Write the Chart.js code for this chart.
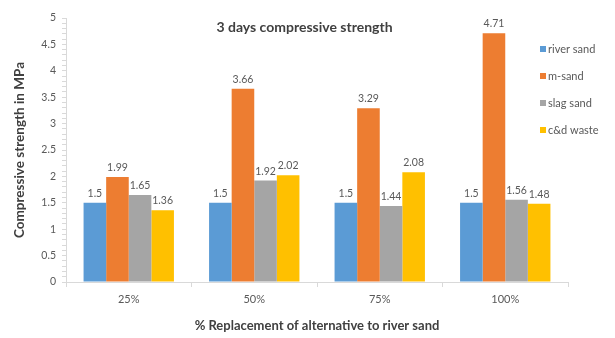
<!DOCTYPE html>
<html>
<head>
<meta charset="utf-8">
<script src="https://cdn.jsdelivr.net/npm/chart.js@4/dist/chart.umd.min.js"></script>
<style>
  html, body { margin: 0; padding: 0; background: #fff; }
  #wrap { width: 615px; height: 338px; }
</style>
</head>
<body>
<div id="wrap"><canvas id="c"></canvas></div>
<script>
// данные
const categories = ["25%", "50%", "75%", "100%"];
const riverSand = [1.5, 1.5, 1.5, 1.5];
const mSand = [1.99, 3.66, 3.29, 4.71];
const slagSand = [1.65, 1.92, 1.44, 1.56];
const cdWaste = [1.36, 2.02, 2.08, 1.48];
const seriesNames = ["river sand", "m-sand", "slag sand", "c&d waste"];
const seriesColors = ["#5B9BD5", "#ED7D31", "#A5A5A5", "#FFC000"];

const FONT = "Lato, 'Open Sans', sans-serif";
let canvas = document.getElementById("c");
let context = canvas.getContext("2d");

// подписи значений над столбцами
const valueLabels = {
  id: "valueLabels",
  afterDatasetsDraw(chart) {
    let ctx = chart.ctx;
    ctx.save();
    ctx.font = "10.5px " + FONT;
    ctx.fillStyle = "#595959";
    ctx.textAlign = "center";
    ctx.textBaseline = "bottom";
    chart.data.datasets.forEach((ds, i) => {
      chart.getDatasetMeta(i).data.forEach((bar, j) => {
        ctx.fillText(String(ds.data[j]), bar.x, bar.y - 4);
      });
    });
    ctx.restore();
  },
};

// заголовок поверх области графика и легенда справа
const overlay = {
  id: "overlay",
  afterDraw(chart) {
    let ctx = chart.ctx;
    let area = chart.chartArea;
    ctx.save();
    ctx.font = "bold 14px " + FONT;
    ctx.fillStyle = "#404040";
    ctx.textAlign = "center";
    ctx.textBaseline = "middle";
    ctx.fillText("3 days compressive strength", chart.width / 2 - 3, 27);

    ctx.font = "11px " + FONT;
    ctx.textAlign = "left";
    chart.data.datasets.forEach((ds, i) => {
      let y = 49 + i * 27;
      let x = area.right - 28;
      ctx.fillStyle = ds.backgroundColor;
      ctx.fillRect(x, y - 3, 6, 6);
      ctx.fillStyle = "#595959";
      ctx.fillText(ds.label, x + 8, y);
    });
    ctx.restore();
  },
};

let config = {
  type: "bar",
  data: {
    labels: categories,
    datasets: [riverSand, mSand, slagSand, cdWaste].map((d, i) => ({
      label: seriesNames[i],
      data: d,
      backgroundColor: seriesColors[i],
      categoryPercentage: 0.72,
      barPercentage: 1.0,
    })),
  },
  options: {
    responsive: true,
    maintainAspectRatio: false,
    animation: false,
    layout: { padding: { top: 18, right: 47, left: 0, bottom: 0 } },
    scales: {
      x: {
        afterFit: (scale) => { scale.height = 56; },
        ticks: { color: "#595959", font: { family: FONT, size: 11 }, padding: 6 },
        grid: { display: true, drawOnChartArea: false, tickLength: 5, color: "#d9d9d9", offset: true },
        border: { color: "#d9d9d9" },
        title: {
          display: true,
          text: "% Replacement of alternative to river sand",
          color: "#404040",
          font: { family: FONT, size: 13, weight: "bold" },
          padding: { top: 4 },
        },
      },
      y: {
        min: 0,
        max: 5,
        afterFit: (scale) => { scale.width = 66; },
        ticks: {
          stepSize: 0.1,
          autoSkip: false,
          color: "#595959",
          font: { family: FONT, size: 10.5 },
          padding: 6,
          callback: (v) => (Math.round(v * 10) % 5 === 0 ? String(Math.round(v * 10) / 10) : ""),
        },
        grid: { display: true, drawOnChartArea: false, tickLength: 4, color: "#d9d9d9" },
        border: { color: "#d9d9d9" },
        title: {
          display: true,
          text: "Compressive strength in MPa",
          color: "#404040",
          font: { family: FONT, size: 13.5, weight: "bold" },
          padding: { top: 12, bottom: 2 },
        },
      },
    },
    plugins: {
      legend: { display: false },
      tooltip: { enabled: false },
    },
  },
  plugins: [valueLabels, overlay],
};
let chart = new Chart(context, config);
</script>
</body>
</html>
